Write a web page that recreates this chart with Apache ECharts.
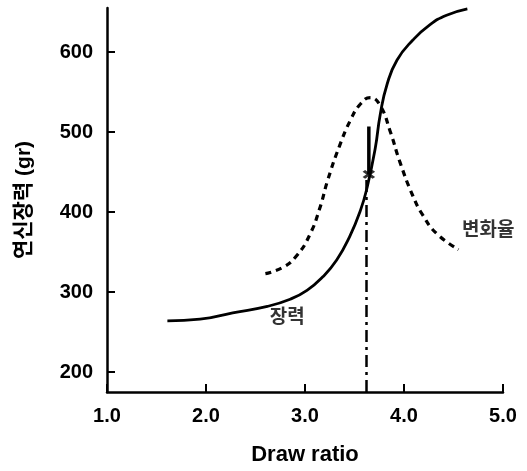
<!DOCTYPE html>
<html>
<head>
<meta charset="utf-8">
<script src="https://cdn.jsdelivr.net/npm/echarts@6/dist/echarts.min.js"></script>
<style>
  html, body { margin: 0; padding: 0; background: #fff; }
  #chart { width: 527px; height: 471px; }
</style>
</head>
<body>
<div id="chart"></div>
<script>
// 장력 (solid curve)
const strengthX = [1.61, 1.94, 2.27, 2.62, 2.85, 3.02, 3.18, 3.32, 3.45, 3.56, 3.63, 3.71, 3.76, 3.83, 3.93, 4.09, 4.26, 4.43, 4.64]
const strengthY = [264, 266, 274, 282, 291, 302, 319, 340, 369, 402, 432, 480, 522, 560, 590, 615, 634, 646, 654]
// 변화율 (dashed curve)
const rateX = [2.60, 2.78, 2.92, 3.05, 3.15, 3.23, 3.35, 3.46, 3.56, 3.66, 3.76, 3.86, 3.96, 4.09, 4.19, 4.33, 4.55]
const rateY = [323, 331, 346, 372, 405, 440, 483, 515, 535, 543, 533, 501, 462, 420, 396, 373, 353]
// optimum draw ratio marker
const markX = 3.62
const markBottom = 175
const markTop = 442
const arrowX = [3.645, 3.645]
const arrowY = [507, 447]
const xTicks = [1, 2, 3, 4, 5]
const yTicks = [200, 300, 400, 500, 600]
const curveLabels = [
  { name: '장력', x: 2.82, y: 268 },
  { name: '변화율', x: 4.85, y: 376 }
]

const font = '"Liberation Sans", "Noto Sans CJK KR", sans-serif'
const pair = (xs, ys) => xs.map((x, i) => [x, ys[i]])

const chart = echarts.init(document.getElementById('chart'))
chart.setOption({
  animation: false,
  grid: { left: 107, right: 24, top: 8, bottom: 74 },
  xAxis: {
    type: 'value',
    min: 1,
    max: 5,
    interval: 1,
    name: 'Draw ratio',
    nameLocation: 'middle',
    nameGap: 52,
    nameTextStyle: { fontFamily: font, fontWeight: 'bold', fontSize: 22, color: '#000' },
    axisLine: { lineStyle: { color: '#000', width: 2.5 } },
    axisTick: { inside: true, length: 8, lineStyle: { color: '#000', width: 2 } },
    axisLabel: {
      margin: 14,
      fontFamily: font, fontWeight: 'bold', fontSize: 20, color: '#000',
      formatter: v => xTicks.includes(v) ? v.toFixed(1) : ''
    },
    splitLine: { show: false }
  },
  yAxis: {
    type: 'value',
    min: 175,
    max: 655,
    name: '연신장력 (gr)',
    nameLocation: 'middle',
    nameGap: 72,
    nameTextStyle: { fontFamily: font, fontWeight: 'bold', fontSize: 21, color: '#000' },
    axisLine: { lineStyle: { color: '#000', width: 2.5 } },
    axisTick: { inside: true, length: 8, customValues: yTicks, lineStyle: { color: '#000', width: 2 } },
    axisLabel: {
      margin: 14,
      customValues: yTicks,
      fontFamily: font, fontWeight: 'bold', fontSize: 20, color: '#000'
    },
    splitLine: { show: false }
  },
  series: [
    {
      type: 'line',
      data: pair(strengthX, strengthY),
      smooth: 0.5,
      symbol: 'none',
      lineStyle: { color: '#000', width: 2.8 },
      markLine: {
        silent: true,
        symbol: 'none',
        label: { show: false },
        lineStyle: { color: '#000', width: 2.5, type: [12, 5, 3, 5] },
        data: [[{ coord: [markX, markBottom] }, { coord: [markX, markTop] }]]
      }
    },
    {
      type: 'line',
      data: pair(rateX, rateY),
      smooth: 0.5,
      symbol: 'none',
      lineStyle: { color: '#000', width: 3.2, type: [6, 5] }
    },
    {
      type: 'line',
      data: pair(arrowX, arrowY),
      symbol: 'none',
      itemStyle: { color: '#000' },
      lineStyle: { color: '#000', width: 3.5 }
    },
    {
      type: 'scatter',
      data: [[arrowX[1], arrowY[1]]],
      symbol: 'path://M0,0L10,10M10,0L0,10',
      symbolSize: [10, 7],
      itemStyle: { color: '#000', borderColor: '#000', borderWidth: 3 }
    },
    {
      type: 'scatter',
      data: curveLabels.map(d => ({ name: d.name, value: [d.x, d.y] })),
      symbolSize: 0,
      label: {
        show: true,
        position: 'inside',
        formatter: p => p.name,
        fontFamily: font, fontWeight: 'bold', fontSize: 19, color: '#000'
      }
    }
  ]
})
</script>
</body>
</html>
